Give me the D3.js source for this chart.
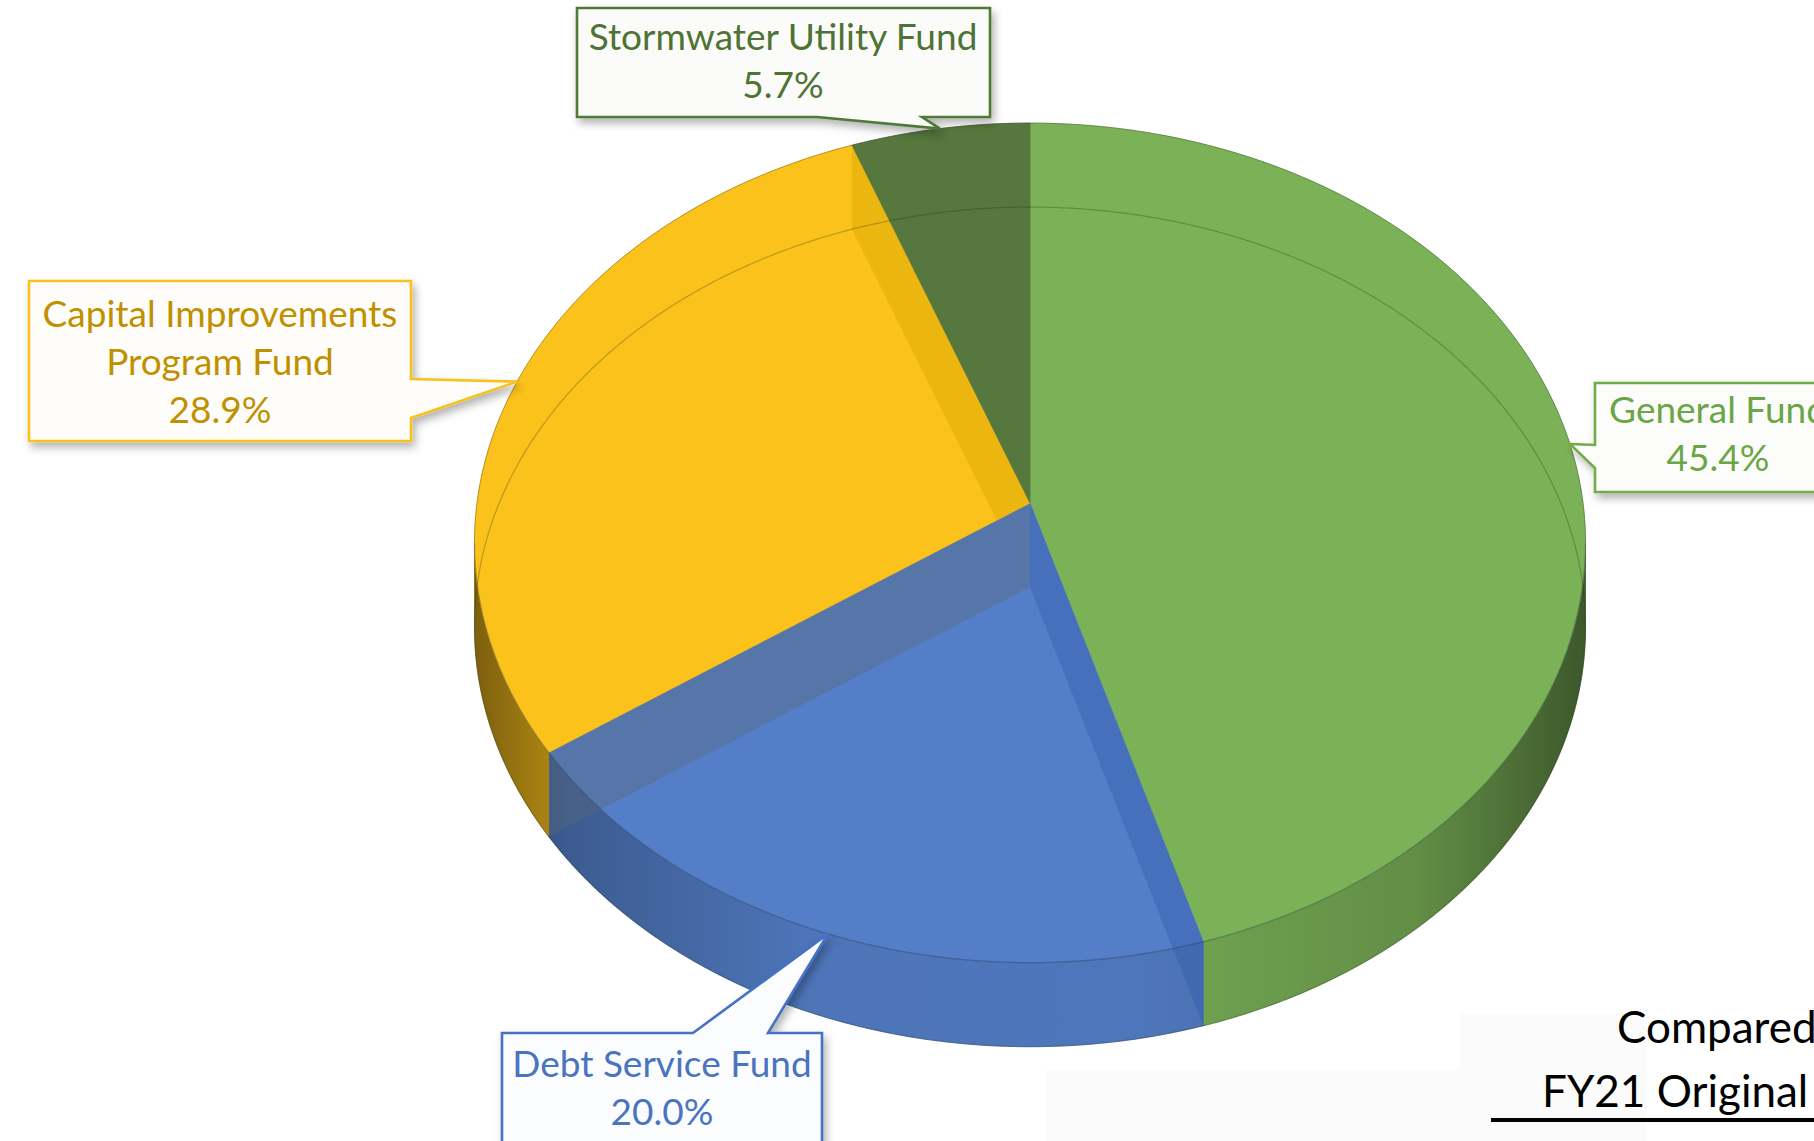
<!DOCTYPE html>
<html>
<head>
<meta charset="utf-8">
<script src="https://cdn.jsdelivr.net/npm/d3@7"></script>
<style>
  html, body { margin: 0; padding: 0; background: #fff; overflow: hidden; }
  svg { display: block; }
</style>
</head>
<body>
<svg id="chart"></svg>
<script>
// ---- data: slices run clockwise from 12 o'clock ----
const funds = ["General Fund", "Debt Service Fund", "Capital Improvements Program Fund", "Stormwater Utility Fund"];
const shares = [45.4, 20.0, 28.9, 5.7];
const labelLines = [["General Fund"], ["Debt Service Fund"], ["Capital Improvements", "Program Fund"], ["Stormwater Utility Fund"]];
const pctLabels = ["45.4%", "20.0%", "28.9%", "5.7%"];
const noteLines = ["Compared to", "FY21 Original Budget"];

// ---- styles ----
const W = 1814, H = 1141;
const topColors   = ["#7bb257", "#547fc8", "#fcc21c", "#56773e"];
// tint of the inner radial faces seen through each slice: [start side, end side]
const bandColors  = [["#4f7f30", "#4f7f30"], ["#2f5aa8", "#5a6a78"], ["#d1a300", "#d1a300"], ["#3e5a2a", "#3e5a2a"]];
const textColors  = ["#6aa645", "#4a74c0", "#bf9000", "#4f7335"];
const borderColors = ["#70ad47", "#4472c4", "#f7c21e", "#4f7a34"];

// perspective-ish projection of the pie disc (top face z=0, bottom z=1)
const pie3d = { cx: 1030, cy: 503, A: 553, B: 416, k: 0.095, depth: 84 };

function proj(a, z) {
  const s = Math.sin(a), c = Math.cos(a), w = 1 + pie3d.k * c;
  return [pie3d.cx + pie3d.A * s / w, pie3d.cy - pie3d.B * c / w + z * pie3d.depth];
}
function apex(z) { return [pie3d.cx, pie3d.cy + z * pie3d.depth]; }
function arcPts(a0, a1, z) {
  const n = Math.max(2, Math.ceil((a1 - a0) / 0.008));
  return d3.range(n + 1).map(i => proj(a0 + (a1 - a0) * i / n, z));
}
const line = d3.line();
const closed = pts => line(pts) + "Z";

const svg = d3.select("#chart").attr("width", W).attr("height", H);
const defs = svg.append("defs");

defs.append("filter").attr("id", "shadow")
  .attr("x", "-20%").attr("y", "-20%").attr("width", "140%").attr("height", "160%")
  .append("feDropShadow")
  .attr("dx", 3).attr("dy", 5).attr("stdDeviation", 4)
  .attr("flood-color", "#000").attr("flood-opacity", 0.3);

// faint text-box backgrounds at the bottom right
svg.append("rect").attr("x", 1045).attr("y", 1070).attr("width", 602).attr("height", 80).attr("fill", "#fbfbfb");
svg.append("rect").attr("x", 1460).attr("y", 1013).attr("width", 187).attr("height", 60).attr("fill", "#fbfbfb");

const arcs = d3.pie().sort(null).value(d => d)(shares);

// front part of the side wall (facing the viewer)
const fr0 = Math.acos(-pie3d.k), fr1 = 2 * Math.PI - fr0;

// side wall gradients, dark at the silhouette edges
const wallStops = [[0, 0.5], [0.08, 0.72], [0.3, 0.92], [0.6, 0.93], [0.85, 0.8], [1, 0.5]];
topColors.forEach((c, i) => {
  const g = defs.append("linearGradient").attr("id", "wall" + i)
    .attr("gradientUnits", "userSpaceOnUse")
    .attr("x1", pie3d.cx - pie3d.A).attr("x2", pie3d.cx + pie3d.A)
    .attr("y1", 0).attr("y2", 0);
  wallStops.forEach(([o, f]) => g.append("stop").attr("offset", o)
    .attr("stop-color", d3.interpolateRgb("#000", c)(f)));
});

const slices = arcs.map((a, i) => {
  const topPath = closed([apex(0)].concat(arcPts(a.startAngle, a.endAngle, 0)));
  const s0 = Math.max(a.startAngle, fr0), s1 = Math.min(a.endAngle, fr1);
  const wallPath = s1 > s0
    ? closed(arcPts(s0, s1, 0).concat(arcPts(s0, s1, 1).reverse()))
    : null;
  return { a, i, topPath, wallPath };
});

// clip each slice to its own visible silhouette
slices.forEach(s => {
  const cp = defs.append("clipPath").attr("id", "clip" + s.i);
  cp.append("path").attr("d", s.topPath);
  if (s.wallPath) cp.append("path").attr("d", s.wallPath);
});

const pieG = svg.append("g");

// walls
pieG.append("g").selectAll("path")
  .data(slices.filter(s => s.wallPath))
  .join("path")
  .attr("d", s => s.wallPath)
  .attr("fill", s => `url(#wall${s.i})`)
  .attr("stroke", s => `url(#wall${s.i})`)
  .attr("stroke-width", 0.8);

// top faces
pieG.append("g").selectAll("path")
  .data(slices)
  .join("path")
  .attr("d", s => s.topPath)
  .attr("fill", s => topColors[s.i])
  .attr("stroke", s => topColors[s.i])
  .attr("stroke-width", 0.8);

// radial faces seen through the translucent top
const bandG = pieG.append("g");
slices.forEach(s => {
  [s.a.startAngle, s.a.endAngle].forEach((ang, j) => {
    bandG.append("path")
      .attr("clip-path", `url(#clip${s.i})`)
      .attr("d", closed([apex(0), proj(ang, 0), proj(ang, 1), apex(1)]))
      .attr("fill", bandColors[s.i][j])
      .attr("fill-opacity", 0.38);
  });
});

// hidden bottom outline + edges
pieG.append("path")
  .attr("d", closed(arcPts(0, 2 * Math.PI, 1)))
  .attr("fill", "none").attr("stroke", "#1e2a14")
  .attr("stroke-opacity", 0.28).attr("stroke-width", 1.2);
pieG.append("path")
  .attr("d", line(arcPts(fr0, fr1, 0)))
  .attr("fill", "none").attr("stroke", "#1e2a40")
  .attr("stroke-opacity", 0.35).attr("stroke-width", 1.3);
pieG.append("path")
  .attr("d", line(arcPts(-fr0, fr0, 0)))
  .attr("fill", "none").attr("stroke", "#2a3020")
  .attr("stroke-opacity", 0.35).attr("stroke-width", 1);

// ---- callouts ----
const callouts = [
  { x: 1595, y: 383, w: 246, h: 109, side: "left",   b: [445, 468], cx: 1718, base: 423 },
  { x: 502,  y: 1033, w: 320, h: 130, side: "top",   b: [693, 768], cx: 662,  base: 1077 },
  { x: 29,   y: 281, w: 382, h: 160, side: "right",  b: [379, 418], cx: 220,  base: 327 },
  { x: 577,  y: 8,   w: 413, h: 109, side: "bottom", b: [817, 922], cx: 783,  base: 50 }
];
const lineGap = 48;

function calloutPath(c, tip) {
  const x0 = c.x, y0 = c.y, x1 = c.x + c.w, y1 = c.y + c.h, [b1, b2] = c.b;
  const p = [[x0, y0]];
  if (c.side === "top") p.push([b1, y0], tip, [b2, y0]);
  p.push([x1, y0]);
  if (c.side === "right") p.push([x1, b1], tip, [x1, b2]);
  p.push([x1, y1]);
  if (c.side === "bottom") p.push([b2, y1], tip, [b1, y1]);
  p.push([x0, y1]);
  if (c.side === "left") p.push([x0, b2], tip, [x0, b1]);
  return closed(p);
}

const labG = svg.append("g")
  .style("font-family", "Lato, 'Open Sans', sans-serif")
  .style("font-size", "37px");

arcs.forEach((a, i) => {
  const c = callouts[i];
  const tip = proj((a.startAngle + a.endAngle) / 2, 0);
  labG.append("path")
    .attr("d", calloutPath(c, tip))
    .attr("fill", d3.interpolateRgb("#fff", topColors[i])(0.025))
    .attr("stroke", borderColors[i])
    .attr("stroke-width", 2.6)
    .attr("stroke-linejoin", "miter")
    .attr("filter", "url(#shadow)");
  const lines = labelLines[i].concat([pctLabels[i]]);
  lines.forEach((t, j) => {
    labG.append("text")
      .attr("x", c.cx).attr("y", c.base + j * lineGap)
      .attr("text-anchor", "middle")
      .attr("fill", textColors[i])
      .text(t);
  });
});

// ---- note in the corner ----
const noteG = svg.append("g")
  .style("font-family", "Lato, 'Open Sans', sans-serif")
  .style("font-size", "44px")
  .attr("fill", "#000");
noteG.append("text").attr("x", 1617).attr("y", 1043).text(noteLines[0]);
noteG.append("text").attr("x", 1542).attr("y", 1107).text(noteLines[1]);
noteG.append("line")
  .attr("x1", 1491).attr("x2", W + 10)
  .attr("y1", 1120).attr("y2", 1120)
  .attr("stroke", "#000").attr("stroke-width", 4);
</script>
</body>
</html>
